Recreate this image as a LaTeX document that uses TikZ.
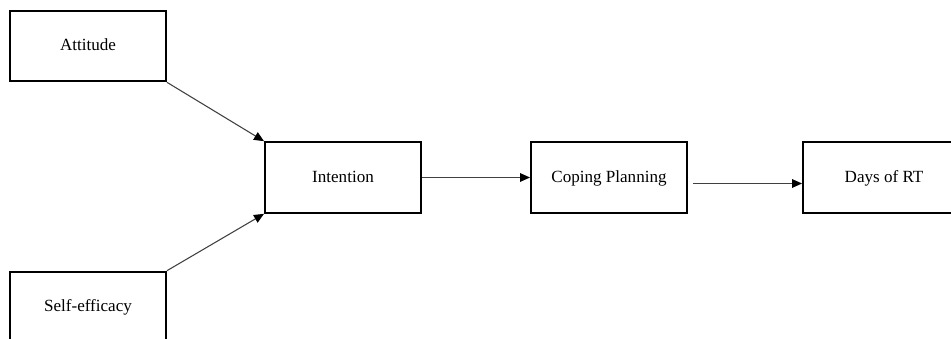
\documentclass[tikz,border=0pt]{standalone}
\usepackage{fontspec}
\setmainfont{Liberation Serif}
\usetikzlibrary{calc,arrows.meta}
\begin{document}
\begin{tikzpicture}[x=0.75pt,y=-0.75pt,
  varbox/.style={draw=black,line width=1.5pt,fill=white,inner sep=0pt,
    minimum width=117pt,minimum height=53pt,text height=0.8em,text depth=0.1em,
    font=\fontsize{12.8}{15}\selectfont},
  path/.style={draw=black!75,line width=0.8pt,
    -{Triangle[length=7.5pt,width=6.5pt,color=black]}}]
  \useasboundingbox (0,0) rectangle (951,339);
  % constructs
  \node[varbox] (att)  at (88,46)    {Attitude};
  \node[varbox] (self) at (88,307)   {Self-efficacy};
  \node[varbox] (int)  at (343,177.5) {Intention};
  \node[varbox] (cop)  at (609,177.5) {Coping Planning};
  \node[varbox,minimum width=121.5pt] (days) at (884,177.5) {Days of RT};
  % hypothesised paths
  \draw[path] (att.south east) -- (int.north west);
  \draw[path] (self.north east) -- (int.south west);
  \draw[path] (int.east) -- (cop.west);
  \draw[path] ($(cop.east)+(5,6)$) -- ($(days.west)+(0,6)$);
\end{tikzpicture}
\end{document}
